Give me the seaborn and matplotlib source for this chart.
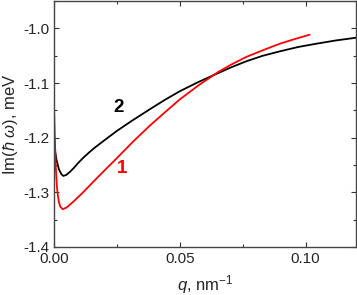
import matplotlib
matplotlib.use("Agg")
import matplotlib.pyplot as plt
from matplotlib.ticker import MultipleLocator, FormatStrFormatter
import seaborn as sns
import pandas as pd

# curve 2 (black)
q_black = [0.0, 0.0005, 0.001, 0.002, 0.003, 0.0037, 0.005, 0.0065, 0.008,
           0.0095, 0.0116, 0.014, 0.0163, 0.020, 0.0249, 0.031, 0.0381, 0.044,
           0.05, 0.057, 0.0632, 0.070, 0.0765, 0.083, 0.0897, 0.097, 0.1042,
           0.112, 0.12]
im_black = [-1.20, -1.225, -1.240, -1.258, -1.267, -1.270, -1.268, -1.262, -1.255,
            -1.247, -1.237, -1.227, -1.218, -1.205, -1.188, -1.169, -1.148, -1.131,
            -1.115, -1.099, -1.086, -1.072, -1.060, -1.050, -1.042, -1.034, -1.028,
            -1.022, -1.017]

# curve 1 (red)
q_red = [0.0, 0.0003, 0.0007, 0.0012, 0.0016, 0.002, 0.0025, 0.0035, 0.005,
         0.008, 0.0116, 0.0175, 0.0249, 0.0315, 0.0381, 0.045, 0.05, 0.0575,
         0.0652, 0.0705, 0.0765, 0.083, 0.0897, 0.096, 0.1016]
im_red = [-1.137, -1.19, -1.25, -1.29, -1.307, -1.318, -1.326, -1.331, -1.328,
          -1.316, -1.300, -1.272, -1.238, -1.207, -1.178, -1.150, -1.130, -1.104,
          -1.080, -1.066, -1.052, -1.040, -1.028, -1.019, -1.0115]

sns.set_theme(style="ticks")
plt.rcParams["font.family"] = ["Liberation Sans", "DejaVu Sans"]
plt.rcParams["mathtext.fontset"] = "custom"
plt.rcParams["mathtext.rm"] = "Liberation Sans"
plt.rcParams["mathtext.it"] = "Liberation Sans:italic"

df_black = pd.DataFrame({"q": q_black, "im": im_black})
df_red = pd.DataFrame({"q": q_red, "im": im_red})

fig = plt.figure(figsize=(3.57, 2.95), dpi=100)
ax = fig.add_axes([0.151, 0.163, 0.846, 0.835])

sns.lineplot(data=df_black, x="q", y="im", ax=ax, color="black", lw=1.3, sort=False)
sns.lineplot(data=df_red, x="q", y="im", ax=ax, color="#ff0000", lw=1.3, sort=False)

ax.text(0.0258, -1.144, "2", color="black", fontsize=13.5, fontweight="bold",
        ha="center", va="center")
ax.text(0.0272, -1.256, "1", color="#ff0000", fontsize=13.5, fontweight="bold",
        ha="center", va="center")

ax.set_xlim(0, 0.12)
ax.set_ylim(-1.4, -0.949)
ax.xaxis.set_major_locator(MultipleLocator(0.05))
ax.xaxis.set_minor_locator(MultipleLocator(0.025))
ax.yaxis.set_major_locator(MultipleLocator(0.1))
ax.yaxis.set_minor_locator(MultipleLocator(0.05))
ax.xaxis.set_major_formatter(FormatStrFormatter("%.2f"))
ax.yaxis.set_major_formatter(FormatStrFormatter("%.1f"))
ax.tick_params(which="both", direction="in", top=True, right=True,
               labelsize=11, color="#333333", width=0.8)
ax.tick_params(which="major", length=3.5)
ax.tick_params(which="minor", length=2)
for sp in ax.spines.values():
    sp.set_color("#444444")
    sp.set_linewidth(1.0)

ax.set_xlabel(r"$q$, nm$^{-1}$", fontsize=12, labelpad=5)
ax.set_ylabel(r"Im($\hbar\ \omega$), meV", fontsize=12, labelpad=2)

fig.savefig("out.png", dpi=100)
plt.close(fig)
